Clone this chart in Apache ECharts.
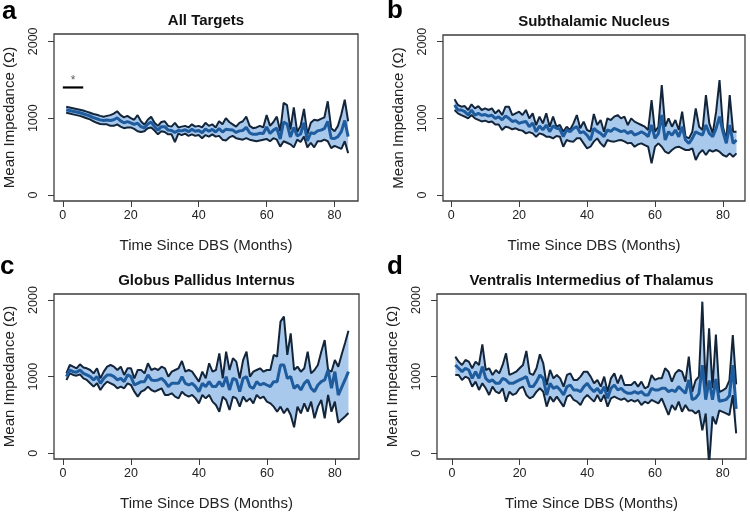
<!DOCTYPE html>
<html><head><meta charset="utf-8">
<script src="https://cdn.jsdelivr.net/npm/echarts@6/dist/echarts.min.js"></script>
<style>html,body{margin:0;padding:0;background:#fff}#c{width:750px;height:515px}</style>
</head><body><div id="c"></div>
<script>
const months = [1,2,3,4,5,6,7,8,9,10,11,12,13,14,15,16,17,18,19,20,21,22,23,24,25,26,27,28,29,30,31,32,33,34,35,36,37,38,39,40,41,42,43,44,45,46,47,48,49,50,51,52,53,54,55,56,57,58,59,60,61,62,63,64,65,66,67,68,69,70,71,72,73,74,75,76,77,78,79,80,81,82,83,84];
const xTicks = [0,20,40,60,80];
const yTicks = [0,1000,2000];

const allUpper = [1150,1140,1130,1120,1110,1100,1085,1070,1055,1045,1030,1020,1030,1040,1060,1090,1040,1010,1030,1000,980,1040,960,915,980,1020,940,900,950,960,900,890,940,880,890,900,880,920,890,900,880,940,900,920,880,960,920,1000,950,920,890,940,960,1020,900,870,880,900,880,1040,900,950,1020,830,1200,1170,850,1140,820,900,1120,790,940,980,970,990,1010,1220,870,830,900,1050,1240,960];
const allMean = [1110,1100,1090,1080,1070,1058,1043,1028,1008,993,978,970,975,970,980,1005,965,940,955,940,920,935,890,872,925,950,890,845,890,890,845,840,815,840,835,850,825,855,830,840,810,860,830,855,820,865,820,855,850,845,815,835,840,880,810,790,790,805,800,885,800,845,870,730,950,925,755,880,770,795,940,705,810,800,835,845,865,960,740,735,760,825,970,760];
const allLower = [1070,1060,1050,1040,1030,1015,1000,985,960,940,925,920,920,900,900,920,890,870,880,880,860,830,820,830,870,880,840,790,830,820,790,790,690,800,780,800,770,790,770,780,740,780,760,790,760,770,720,710,750,770,740,730,720,740,720,710,700,710,720,730,700,740,720,630,700,680,660,620,720,690,760,620,680,620,700,700,720,700,610,640,620,600,700,545];

const stnUpper = [1248,1174,1152,1160,1109,1183,1130,1160,1109,1130,1109,1130,1065,1109,1043,1152,1152,1043,1065,1087,1043,1109,1000,1065,913,1022,935,1065,891,1022,891,913,826,891,848,935,1043,870,957,848,826,1057,913,978,826,1000,978,1022,1043,1000,1022,913,1000,957,935,913,891,848,1239,826,891,1435,891,1000,891,978,848,1087,761,739,826,1130,891,848,1304,935,804,1087,1500,891,717,1304,826,826];
const stnMean = [1174,1110,1109,1087,1043,1109,1043,1065,1040,1050,1030,1040,1000,1020,980,1030,1000,960,970,935,950,960,891,940,826,900,850,913,826,900,870,860,761,850,826,870,891,810,826,780,717,870,830,804,761,848,830,870,850,826,840,804,830,783,800,826,800,761,913,739,800,1043,717,826,780,848,760,891,717,674,739,826,800,783,913,804,761,870,1022,826,674,913,674,717];
const stnLower = [1109,1065,1043,1022,1000,1043,1000,980,960,970,950,960,920,920,848,891,880,857,870,848,840,804,820,804,761,804,790,761,760,739,770,761,630,717,700,696,740,739,674,609,630,696,739,674,630,717,700,696,710,717,700,674,680,630,660,674,650,630,413,630,674,630,565,543,587,620,630,609,587,587,609,457,543,587,522,587,565,587,565,522,500,543,500,543];

const gpiUpper = [1043,1152,1130,1109,1161,1120,1109,1087,1043,1109,978,1065,1130,1152,1130,1087,1130,1022,1109,1109,978,1087,1087,1043,1174,1087,1109,1087,1130,1109,1000,1065,1087,1109,1204,1065,1087,1065,1000,935,1065,978,1174,1065,1087,1304,978,1326,1087,1239,1196,978,1217,1326,1000,1065,1087,1109,1065,1087,1087,1283,1261,1717,1783,1283,1565,1087,1130,1065,1109,1326,1043,1087,1152,1326,1478,1087,1065,1217,1130,1290,1440,1600];
const gpiMean = [1000,1087,1065,1057,1087,1043,1022,1000,957,1000,913,978,1022,1022,1000,957,978,935,1022,1000,891,913,935,935,1022,957,948,957,978,935,870,913,913,913,1000,913,891,913,870,804,913,870,935,870,870,935,870,1000,826,978,957,804,978,1000,870,848,935,891,913,891,870,935,935,1152,1152,978,1000,848,891,826,913,957,848,804,891,935,957,1087,848,1065,760,860,960,1065];
const gpiLower = [957,1043,1022,1013,1030,978,957,913,870,913,826,891,935,913,891,848,870,848,913,891,804,739,804,826,870,826,804,826,848,761,761,783,739,717,804,761,739,761,717,652,761,717,761,674,630,543,739,696,565,739,717,609,739,674,717,652,761,717,739,674,652,609,543,609,522,587,500,339,609,522,652,543,674,457,609,696,457,761,543,674,400,440,480,525];

const vimUpper = [1261,1196,1152,1217,1196,1109,1196,1152,1422,1087,1109,1022,1087,1043,1152,1304,1022,1043,1065,1109,1152,1335,1043,1022,1109,1291,1174,891,1087,978,1022,978,870,1022,1043,957,957,1000,1065,1065,1000,913,957,870,1000,804,978,1043,913,1022,891,891,891,935,870,935,848,870,1022,957,978,978,1109,1065,935,1043,1087,1065,935,1261,800,950,1000,1978,850,1630,850,1550,800,820,850,950,1543,900];
const vimMean = [1152,1109,1065,1109,1087,978,1065,978,1130,978,935,957,913,913,978,957,913,913,935,957,978,1000,870,870,935,1022,978,761,913,848,870,826,761,870,891,826,826,804,870,913,848,804,848,783,870,717,848,891,826,848,804,783,783,804,783,804,761,761,848,826,826,848,848,804,826,804,870,826,783,957,700,720,780,1150,700,950,700,970,680,690,700,750,1150,580];
const vimLower = [1022,1022,957,1000,978,870,935,826,913,848,761,870,804,783,848,674,804,761,783,848,870,761,717,739,804,848,804,609,739,674,739,674,609,739,761,696,674,630,717,761,717,674,761,674,761,609,717,739,717,696,717,674,696,674,696,630,674,652,696,674,652,717,609,500,630,565,674,543,630,560,560,520,560,300,520,-150,480,380,560,540,520,500,760,260];

const sigMonths = [0, 6];
const sigLevel = 1400;

const panelTitles = ['All Targets','Subthalamic Nucleus','Globus Pallidus Internus','Ventralis Intermedius of Thalamus'];
const panelLetters = ['a','b','c','d'];
const panelData = [
  [allUpper, allMean, allLower],
  [stnUpper, stnMean, stnLower],
  [gpiUpper, gpiMean, gpiLower],
  [vimUpper, vimMean, vimLower]
];

// layout (pixels) and axis extents
const layout = [
  {left:54, top:34, width:304, height:167, xMin:-2.6, xMax:86.9, yMin:-78, yMax:2096, letterX:2, letterY:-1},
  {left:443, top:35, width:302, height:166, xMin:-2.4, xMax:86.5, yMin:-78, yMax:2087, letterX:387, letterY:-2},
  {left:54, top:294, width:305, height:165, xMin:-2.65, xMax:87.1, yMin:-74, yMax:2078, letterX:0, letterY:254},
  {left:437, top:294, width:309, height:165, xMin:-4.4, xMax:86.9, yMin:-74, yMax:2078, letterX:387, letterY:254}
];

const FILL = '#a9c9ec', EDGE = '#13253a', MEAN = '#1f5c9e', FONT = '"Liberation Sans", Arial, sans-serif';
const pairs = arr => months.map((m, i) => [m, arr[i]]);

// Sutherland-Hodgman clip of a pixel polygon against a rectangle
function clipPoly(pts, r) {
  const edges = [
    [p => p[0] >= r.x, (a, b) => { const t = (r.x - a[0]) / (b[0] - a[0]); return [r.x, a[1] + t * (b[1] - a[1])]; }],
    [p => p[0] <= r.x + r.width, (a, b) => { const X = r.x + r.width; const t = (X - a[0]) / (b[0] - a[0]); return [X, a[1] + t * (b[1] - a[1])]; }],
    [p => p[1] >= r.y, (a, b) => { const t = (r.y - a[1]) / (b[1] - a[1]); return [a[0] + t * (b[0] - a[0]), r.y]; }],
    [p => p[1] <= r.y + r.height, (a, b) => { const Y = r.y + r.height; const t = (Y - a[1]) / (b[1] - a[1]); return [a[0] + t * (b[0] - a[0]), Y]; }]
  ];
  let out = pts;
  for (const [inside, inter] of edges) {
    const inp = out; out = [];
    if (!inp.length) break;
    let prev = inp[inp.length - 1];
    for (const cur of inp) {
      if (inside(cur)) { if (!inside(prev)) out.push(inter(prev, cur)); out.push(cur); }
      else if (inside(prev)) out.push(inter(prev, cur));
      prev = cur;
    }
  }
  return out;
}

const grids = [], xAxes = [], yAxes = [], series = [], graphics = [];
layout.forEach((L, i) => {
  grids.push({left:L.left, top:L.top, width:L.width, height:L.height, show:true, borderColor:'#3c3c3c', borderWidth:1.3, backgroundColor:'transparent', containLabel:false});
  xAxes.push({type:'value', gridIndex:i, min:L.xMin, max:L.xMax,
    name:'Time Since DBS (Months)', nameLocation:'middle', nameGap:37,
    nameTextStyle:{fontSize:15, color:'#222', fontFamily:FONT},
    axisLine:{show:false, onZero:false}, splitLine:{show:false},
    axisTick:{show:true, inside:false, length:6, lineStyle:{color:'#3c3c3c', width:1}, customValues:xTicks},
    axisLabel:{customValues:xTicks, margin:8, fontSize:12.5, color:'#222', fontFamily:FONT, formatter: v => String(v)}});
  yAxes.push({type:'value', gridIndex:i, min:L.yMin, max:L.yMax,
    name:'Mean Impedance (\u03A9)', nameLocation:'middle', nameGap:37,
    nameTextStyle:{fontSize:15, color:'#222', fontFamily:FONT},
    axisLine:{show:false, onZero:false}, splitLine:{show:false},
    axisTick:{show:true, inside:false, length:6, lineStyle:{color:'#3c3c3c', width:1}, customValues:yTicks},
    axisLabel:{customValues:yTicks, rotate:90, margin:14, fontSize:12.5, color:'#222', fontFamily:FONT, formatter: v => String(v)}});
  const [up, mn, lo] = panelData[i];
  const base = {xAxisIndex:i, yAxisIndex:i, silent:true, animation:false};
  series.push(Object.assign({}, base, {
    type:'custom', z:1,
    data: months.map((m, k) => [m, up[k], lo[k]]),
    encode:{x:0, y:[1, 2]},
    renderItem: (params, api) => {
      if (params.dataIndex !== 0) return null;
      const pts = [];
      for (let k = 0; k < months.length; k++) pts.push(api.coord([months[k], up[k]]));
      for (let k = months.length - 1; k >= 0; k--) pts.push(api.coord([months[k], lo[k]]));
      const cs = params.coordSys;
      const clipped = clipPoly(pts, {x:cs.x, y:cs.y, width:cs.width, height:cs.height});
      return {type:'polygon', shape:{points:clipped}, style:{fill:FILL, stroke:null}};
    }
  }));
  series.push(Object.assign({}, base, {type:'line', symbol:'none', data:pairs(up), lineStyle:{color:EDGE, width:2}, z:2}));
  series.push(Object.assign({}, base, {type:'line', symbol:'none', data:pairs(lo), lineStyle:{color:EDGE, width:2}, z:2}));
  series.push(Object.assign({}, base, {type:'line', symbol:'none', data:pairs(mn), lineStyle:{color:MEAN, width:3}, z:3}));
  graphics.push({type:'text', x:L.letterX, y:L.letterY, style:{text:panelLetters[i], font:'bold 26px ' + FONT, fill:'#000', verticalAlign:'top'}});
  graphics.push({type:'text', x:L.left + L.width/2, y:L.top - 13, style:{text:panelTitles[i], font:'bold 15px ' + FONT, fill:'#111', align:'center', verticalAlign:'middle'}});
});

// significance bar in panel a
series.push({type:'line', xAxisIndex:0, yAxisIndex:0, symbol:'none', silent:true, animation:false,
  data:sigMonths.map(m => [m, sigLevel]), lineStyle:{color:'#000', width:2.2}, z:4});
series.push({type:'scatter', xAxisIndex:0, yAxisIndex:0, symbolSize:0, silent:true, animation:false,
  data:[[(sigMonths[0] + sigMonths[1]) / 2, sigLevel]],
  label:{show:true, formatter:'*', position:'top', distance:1, fontSize:12, color:'#333', fontFamily:FONT}, z:4});

const chart = echarts.init(document.getElementById('c'), null, {renderer:'canvas'});
chart.setOption({animation:false, textStyle:{fontFamily:FONT}, grid:grids, xAxis:xAxes, yAxis:yAxes, series:series, graphic:graphics});
</script></body></html>
